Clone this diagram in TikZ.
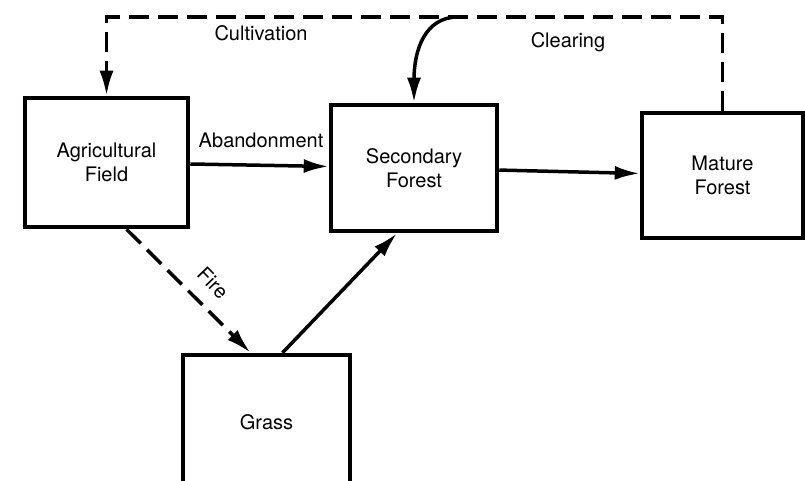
\documentclass[tikz,border=0pt]{standalone}
\usepackage{fontspec}
\setmainfont{TeX Gyre Heros}
\usetikzlibrary{arrows.meta}

\begin{document}
\begin{tikzpicture}[x=1pt,y=-1pt,>={Latex[length=25pt,width=14pt]},
	box/.style={draw,line width=4.5pt,inner sep=0pt,align=center},
	flow/.style={->,line width=3.5pt},
	dashflow/.style={->,line width=3.5pt,dash pattern=on 20pt off 9pt},
	lbl/.style={font=\fontsize{20}{24}\selectfont}]

	\useasboundingbox (0,0) rectangle (805,481);
	\fontsize{20}{24}\selectfont

	\node [box,minimum width=163pt,minimum height=129pt] (agri) at (106.5,162.5) {Agricultural\\Field};
	\node [box,minimum width=166pt,minimum height=126pt] (second) at (414,168) {Secondary\\Forest};
	\node [box,minimum width=161pt,minimum height=125pt] (mature) at (722.5,175.5) {Mature\\Forest};
	\node [box,minimum width=167pt,minimum height=134pt] (grass) at (266.5,422) {Grass};

	\coordinate (topline) at (0,17);
	\coordinate (clearstart) at (458,17);

	\draw [dashflow] (mature.north) -- (mature.north |- topline) -- (agri.north |- topline) -- (agri.north);
	\draw [flow] (clearstart) .. controls (425,17) and (414,50) .. (second.north);
	\draw [flow] (agri) -- (second);
	\draw [flow] (second) -- (mature);
	\draw [dashflow] ([xshift=20pt]agri.south) -- ([xshift=-16pt]grass.north);
	\draw [flow] ([xshift=16pt]grass.north) -- ([xshift=-17pt]second.south);

	\node [lbl] (cultlbl) at (261,33) {Cultivation};
	\node [lbl] (clearlbl) at (568,42) {Clearing};
	\node [lbl] (abandlbl) at (261,140) {Abandonment};
	\node [lbl,rotate=-46,inner sep=0pt] (firelbl) at (213,283) {Fire};

\end{tikzpicture}
\end{document}
